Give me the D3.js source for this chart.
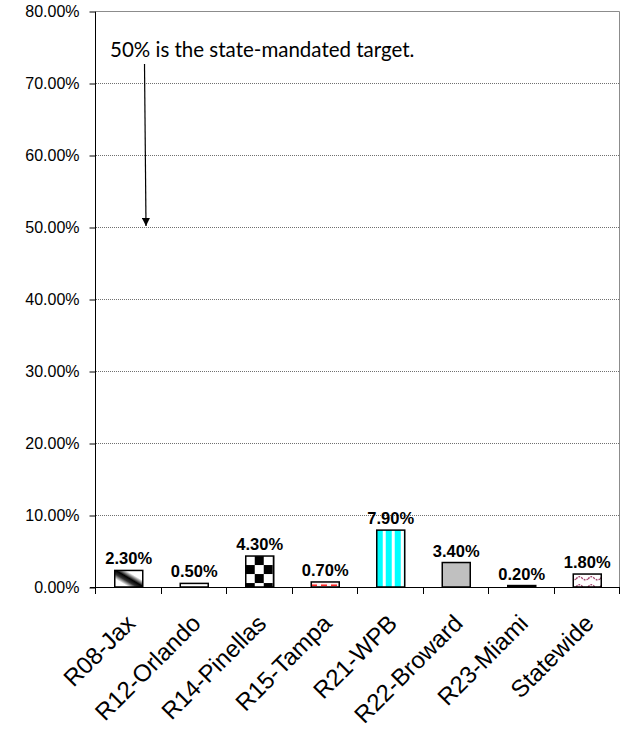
<!DOCTYPE html>
<html>
<head>
<meta charset="utf-8">
<script src="https://cdn.jsdelivr.net/npm/d3@7"></script>
<style>
  body { margin: 0; background: #fff; }
  svg { display: block; }
</style>
</head>
<body>
<svg id="chart" width="622" height="729"></svg>
<script>
// data
var categories = ['R08-Jax', 'R12-Orlando', 'R14-Pinellas', 'R15-Tampa', 'R21-WPB', 'R22-Broward', 'R23-Miami', 'Statewide'];
var values = [0.023, 0.005, 0.043, 0.007, 0.079, 0.034, 0.002, 0.018];
var fills = ['url(#pJax)', '#ffffff', 'url(#pCheck)', 'url(#pTampa)', 'url(#pWpb)', '#c0c0c0', '#000000', 'url(#pWave)'];
var yTicks = [0, 0.1, 0.2, 0.3, 0.4, 0.5, 0.6, 0.7, 0.8];
var note = '50% is the state-mandated target.';
var target = 0.5;

(function () {
  var svg = d3.select('#chart');
  var left = 96, right = 620, plotTop = 11, bottom = 587;

  var x = d3.scaleBand().domain(categories).range([left, right]).padding(0);
  var y = d3.scaleLinear().domain([0, 0.8]).range([bottom, plotTop]);
  var barW = 28;
  var font = 'Liberation Sans, Arial, sans-serif';

  var defs = svg.append('defs');

  // diagonal dark band
  var g1 = defs.append('linearGradient').attr('id', 'pJax')
    .attr('x1', 1).attr('y1', 0).attr('x2', 0).attr('y2', 1);
  g1.append('stop').attr('offset', '0.30').attr('stop-color', '#fff');
  g1.append('stop').attr('offset', '0.48').attr('stop-color', '#000');
  g1.append('stop').attr('offset', '0.60').attr('stop-color', '#333');
  g1.append('stop').attr('offset', '0.75').attr('stop-color', '#fff');

  // checkerboard
  var pc = defs.append('pattern').attr('id', 'pCheck').attr('patternUnits', 'userSpaceOnUse')
    .attr('width', 18).attr('height', 18)
    .attr('x', x('R14-Pinellas') + (x.bandwidth() - barW) / 2).attr('y', y(0.043));
  pc.append('rect').attr('width', 18).attr('height', 18).attr('fill', '#fff');
  pc.append('rect').attr('x', 9).attr('width', 9).attr('height', 9).attr('fill', '#000');
  pc.append('rect').attr('y', 9).attr('width', 9).attr('height', 9).attr('fill', '#000');

  // red dashes
  var pt = defs.append('pattern').attr('id', 'pTampa').attr('patternUnits', 'userSpaceOnUse')
    .attr('width', 10).attr('height', 5).attr('y', y(0.007) + 1);
  pt.append('rect').attr('width', 10).attr('height', 5).attr('fill', '#fff4f4');
  pt.append('rect').attr('x', 1).attr('y', 1.5).attr('width', 6).attr('height', 1.5).attr('fill', '#ff2020');

  // cyan stripes
  var pw = defs.append('pattern').attr('id', 'pWpb').attr('patternUnits', 'userSpaceOnUse')
    .attr('width', 9).attr('height', 10).attr('x', x('R21-WPB') + (x.bandwidth() - barW) / 2 + 1);
  pw.append('rect').attr('width', 9).attr('height', 10).attr('fill', '#00ffff');
  pw.append('rect').attr('x', 5).attr('width', 3).attr('height', 10).attr('fill', '#fff');

  // pink waves
  var pv = defs.append('pattern').attr('id', 'pWave').attr('patternUnits', 'userSpaceOnUse')
    .attr('width', 12).attr('height', 8).attr('y', y(0.018));
  pv.append('rect').attr('width', 12).attr('height', 8).attr('fill', '#fff');
  pv.append('path').attr('d', 'M0,5 Q3,1 6,4 T12,5').attr('fill', 'none')
    .attr('stroke', '#a0406a').attr('stroke-width', 1.3).attr('stroke-dasharray', '2,1');

  // gridlines
  svg.append('g').selectAll('line').data(yTicks.filter(function (d) { return d > 0 && d < 0.8; }))
    .enter().append('line')
    .attr('x1', left).attr('x2', right)
    .attr('y1', function (d) { return Math.round(y(d)) + 0.5; })
    .attr('y2', function (d) { return Math.round(y(d)) + 0.5; })
    .attr('stroke', '#707070').attr('stroke-width', 1).attr('stroke-dasharray', '1,1');

  // plot border (top + right)
  svg.append('path')
    .attr('d', 'M' + left + ',' + (y(0.8) + 0.5) + 'H' + (right - 0.5) + 'V' + bottom)
    .attr('fill', 'none').attr('stroke', '#8c8c8c').attr('stroke-width', 1);

  // y axis
  var yAxis = d3.axisLeft(y).tickValues(yTicks).tickFormat(d3.format('.2%')).tickSize(6).tickPadding(10);
  var ya = svg.append('g').attr('transform', 'translate(' + (left - 0.5) + ',0.5)').call(yAxis);
  ya.select('.domain').attr('stroke', '#000').attr('d', 'M0,' + y(0.8) + 'V' + bottom);
  ya.selectAll('.tick line').attr('stroke', '#000');
  ya.selectAll('text').attr('font-family', font).attr('font-size', 16).attr('fill', '#000');

  // x axis baseline and boundary ticks
  svg.append('line').attr('x1', left - 6).attr('x2', right).attr('y1', bottom + 0.5).attr('y2', bottom + 0.5)
    .attr('stroke', '#000');
  var bounds = categories.map(function (c) { return x(c); }).concat([right]);
  svg.append('g').selectAll('line').data(bounds).enter().append('line')
    .attr('x1', function (d) { return Math.round(d) - 0.5; })
    .attr('x2', function (d) { return Math.round(d) - 0.5; })
    .attr('y1', bottom).attr('y2', bottom + 7).attr('stroke', '#000');

  // bars
  svg.append('g').selectAll('rect').data(values).enter().append('rect')
    .attr('x', function (d, i) { return x(categories[i]) + (x.bandwidth() - barW) / 2; })
    .attr('y', function (d) { return y(d); })
    .attr('width', barW)
    .attr('height', function (d) { return bottom - y(d); })
    .attr('fill', function (d, i) { return fills[i]; })
    .attr('stroke', '#000').attr('stroke-width', 1.5);

  // value labels
  svg.append('g').selectAll('text').data(values).enter().append('text')
    .attr('x', function (d, i) { return x(categories[i]) + x.bandwidth() / 2; })
    .attr('y', function (d) { return y(d) - 6; })
    .attr('text-anchor', 'middle')
    .attr('font-family', font).attr('font-weight', 'bold').attr('font-size', 16.5)
    .text(function (d) { return d3.format('.2%')(d); });

  // category labels
  svg.append('g').selectAll('text').data(categories).enter().append('text')
    .attr('transform', function (d) {
      return 'translate(' + (x(d) + x.bandwidth() / 2 - 4) + ',' + (bottom + 26) + ') rotate(-45)';
    })
    .attr('text-anchor', 'end')
    .attr('dy', '0.7em')
    .attr('font-family', font).attr('font-size', 24)
    .text(function (d) { return d; });

  // annotation and arrow
  defs.append('marker').attr('id', 'arrow').attr('viewBox', '0 0 10 10')
    .attr('refX', 10).attr('refY', 5).attr('markerWidth', 8).attr('markerHeight', 8)
    .attr('markerUnits', 'userSpaceOnUse').attr('orient', 'auto')
    .append('path').attr('d', 'M0,0L10,5L0,10z').attr('fill', '#000');

  svg.append('text').attr('x', 110).attr('y', 57)
    .attr('font-family', 'Lato, Open Sans, sans-serif').attr('font-size', 20.5)
    .text(note);

  svg.append('line').attr('x1', 144.5).attr('y1', 64).attr('x2', 146).attr('y2', y(target) - 1)
    .attr('stroke', '#000').attr('stroke-width', 1.2).attr('marker-end', 'url(#arrow)');
})();
</script>
</body>
</html>
